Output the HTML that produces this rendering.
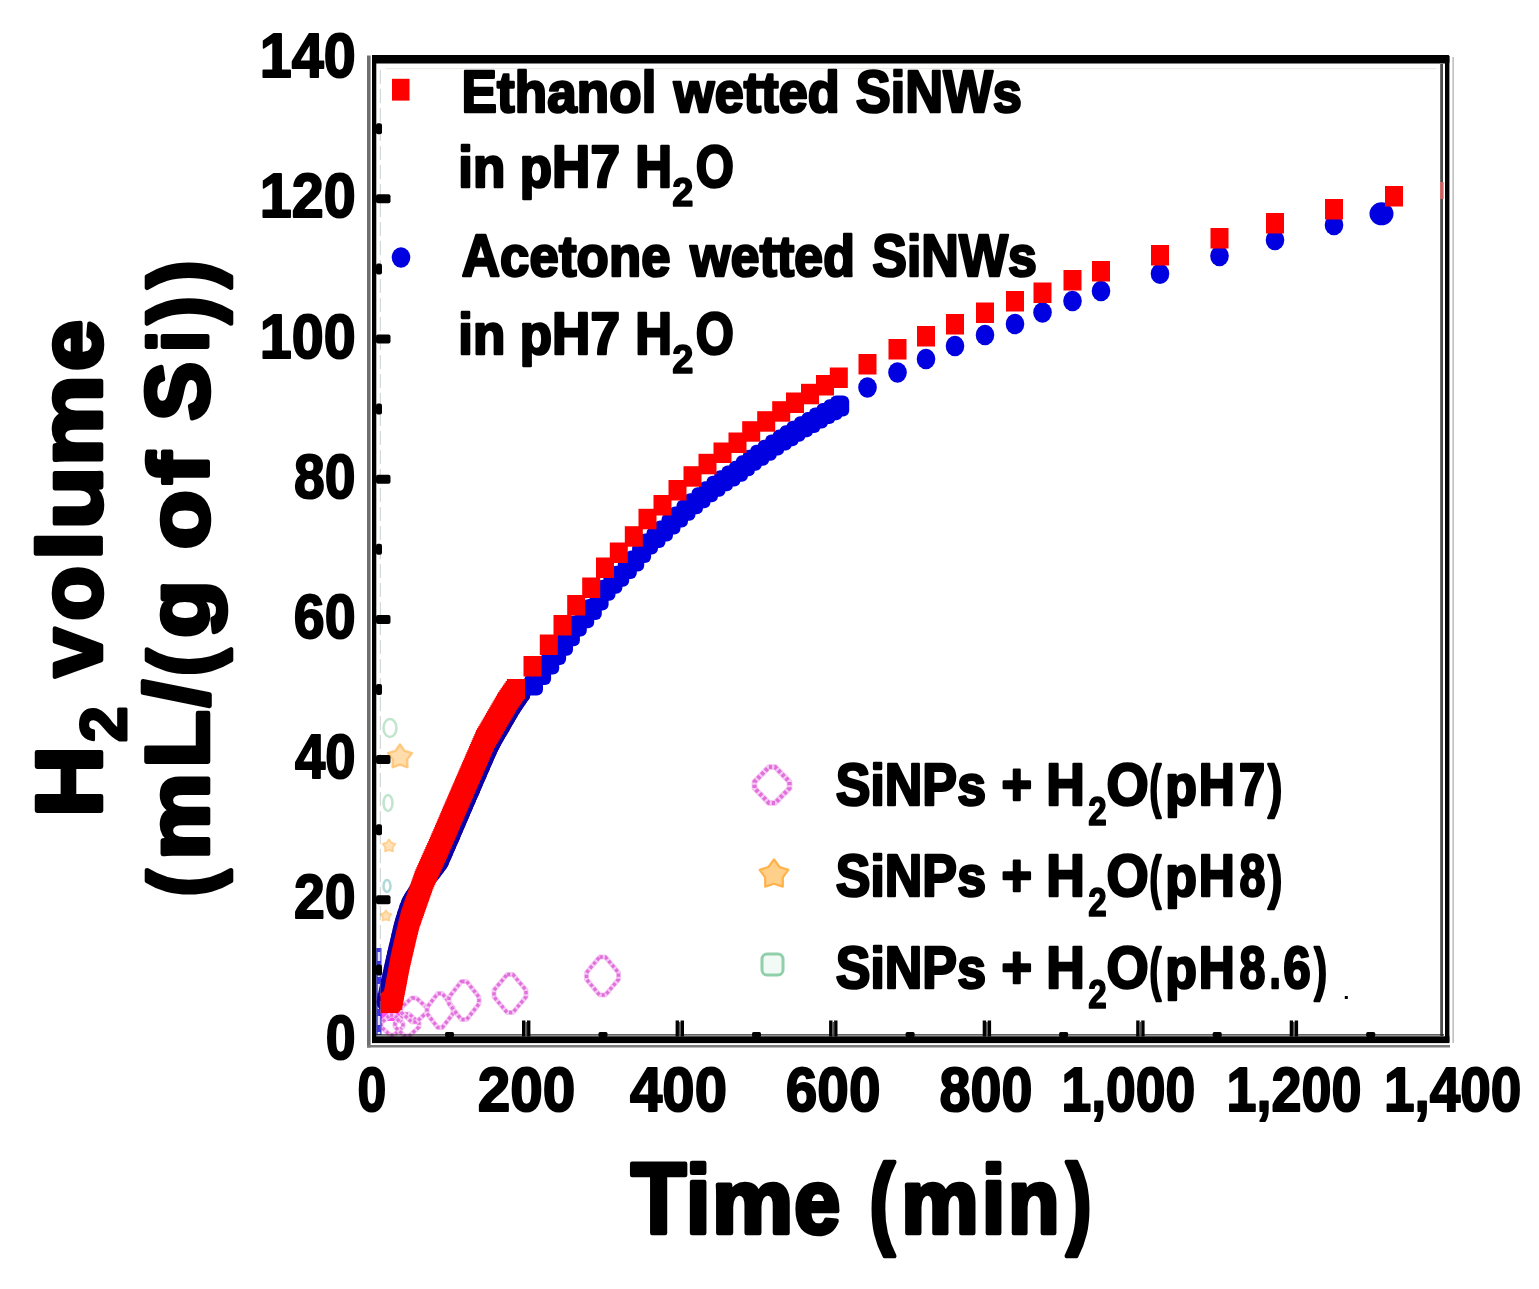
<!DOCTYPE html>
<html lang="en"><head><meta charset="utf-8"><title>H2 volume vs Time</title>
<style>
html,body{margin:0;padding:0;background:#fff;}
body{width:1539px;height:1289px;overflow:hidden;}
svg{display:block;}
text{font-family:"Liberation Sans",sans-serif;font-weight:bold;fill:#000;font-kerning:none;letter-spacing:0;}
</style></head>
<body>
<svg width="1539" height="1289" viewBox="0 0 1539 1289">
<rect width="1539" height="1289" fill="#fff"/>
<g id="minor">
<rect x="379" y="1009" width="24" height="12" fill="#ff38f0" opacity="0.9"/>
<path d="M390.0 1015.0 L394.0 1015.0 L403.0 1023.2 L403.0 1026.8 L394.0 1035.0 L390.0 1035.0 L381.0 1026.8 L381.0 1023.2 Z" fill="none" stroke="#f7c8f4" stroke-width="5.0" stroke-linejoin="round" opacity="1.0"/><path d="M390.0 1015.0 L394.0 1015.0 L403.0 1023.2 L403.0 1026.8 L394.0 1035.0 L390.0 1035.0 L381.0 1026.8 L381.0 1023.2 Z" fill="none" stroke="#e070dc" stroke-width="3.4" stroke-linejoin="round" stroke-dasharray="3.2 2.2" opacity="1.0"/>
<path d="M404.8 1014.0 L409.2 1014.0 L419.0 1023.0 L419.0 1027.0 L409.2 1036.0 L404.8 1036.0 L395.0 1027.0 L395.0 1023.0 Z" fill="none" stroke="#f7c8f4" stroke-width="5.0" stroke-linejoin="round" opacity="1.0"/><path d="M404.8 1014.0 L409.2 1014.0 L419.0 1023.0 L419.0 1027.0 L409.2 1036.0 L404.8 1036.0 L395.0 1027.0 L395.0 1023.0 Z" fill="none" stroke="#e070dc" stroke-width="3.4" stroke-linejoin="round" stroke-dasharray="3.2 2.2" opacity="1.0"/>
<path d="M411.7 998.0 L416.3 998.0 L427.0 1007.8 L427.0 1012.2 L416.3 1022.0 L411.7 1022.0 L401.0 1012.2 L401.0 1007.8 Z" fill="none" stroke="#f7c8f4" stroke-width="5.0" stroke-linejoin="round" opacity="1.0"/><path d="M411.7 998.0 L416.3 998.0 L427.0 1007.8 L427.0 1012.2 L416.3 1022.0 L411.7 1022.0 L401.0 1012.2 L401.0 1007.8 Z" fill="none" stroke="#e070dc" stroke-width="3.4" stroke-linejoin="round" stroke-dasharray="3.2 2.2" opacity="1.0"/>
<path d="M437.7 993.5 L442.3 993.5 L453.0 1007.4 L453.0 1013.6 L442.3 1027.5 L437.7 1027.5 L427.0 1013.6 L427.0 1007.4 Z" fill="none" stroke="#f7c8f4" stroke-width="5.0" stroke-linejoin="round" opacity="1.0"/><path d="M437.7 993.5 L442.3 993.5 L453.0 1007.4 L453.0 1013.6 L442.3 1027.5 L437.7 1027.5 L427.0 1013.6 L427.0 1007.4 Z" fill="none" stroke="#e070dc" stroke-width="3.4" stroke-linejoin="round" stroke-dasharray="3.2 2.2" opacity="1.0"/>
<path d="M461.3 981.5 L466.7 981.5 L479.0 997.1 L479.0 1003.9 L466.7 1019.5 L461.3 1019.5 L449.0 1003.9 L449.0 997.1 Z" fill="none" stroke="#f7c8f4" stroke-width="5.0" stroke-linejoin="round" opacity="1.0"/><path d="M461.3 981.5 L466.7 981.5 L479.0 997.1 L479.0 1003.9 L466.7 1019.5 L461.3 1019.5 L449.0 1003.9 L449.0 997.1 Z" fill="none" stroke="#e070dc" stroke-width="3.4" stroke-linejoin="round" stroke-dasharray="3.2 2.2" opacity="1.0"/>
<path d="M507.1 974.5 L512.9 974.5 L526.0 990.1 L526.0 996.9 L512.9 1012.5 L507.1 1012.5 L494.0 996.9 L494.0 990.1 Z" fill="none" stroke="#f7c8f4" stroke-width="5.0" stroke-linejoin="round" opacity="1.0"/><path d="M507.1 974.5 L512.9 974.5 L526.0 990.1 L526.0 996.9 L512.9 1012.5 L507.1 1012.5 L494.0 996.9 L494.0 990.1 Z" fill="none" stroke="#e070dc" stroke-width="3.4" stroke-linejoin="round" stroke-dasharray="3.2 2.2" opacity="1.0"/>
<path d="M599.6 957.0 L605.4 957.0 L618.5 972.6 L618.5 979.4 L605.4 995.0 L599.6 995.0 L586.5 979.4 L586.5 972.6 Z" fill="none" stroke="#f7c8f4" stroke-width="5.0" stroke-linejoin="round" opacity="1.0"/><path d="M599.6 957.0 L605.4 957.0 L618.5 972.6 L618.5 979.4 L605.4 995.0 L599.6 995.0 L586.5 979.4 L586.5 972.6 Z" fill="none" stroke="#e070dc" stroke-width="3.4" stroke-linejoin="round" stroke-dasharray="3.2 2.2" opacity="1.0"/>
<polygon points="400.0,744.5 404.4,750.9 411.9,753.1 407.1,759.3 407.3,767.1 400.0,764.5 392.7,767.1 392.9,759.3 388.1,753.1 395.6,750.9" fill="#ffd08a" stroke="#ffb24a" stroke-width="2.5" stroke-linejoin="round" opacity="0.7"/>
<polygon points="389.0,839.5 391.3,842.8 395.2,844.0 392.7,847.2 392.8,851.3 389.0,849.9 385.2,851.3 385.3,847.2 382.8,844.0 386.7,842.8" fill="#ffd08a" stroke="#ffb24a" stroke-width="2" stroke-linejoin="round" opacity="0.6"/>
<polygon points="386.0,910.5 387.9,913.3 391.2,914.3 389.1,917.0 389.2,920.4 386.0,919.3 382.8,920.4 382.9,917.0 380.8,914.3 384.1,913.3" fill="#ffd08a" stroke="#ffb24a" stroke-width="2" stroke-linejoin="round" opacity="0.6"/>
<ellipse cx="390" cy="728" rx="6.5" ry="9" fill="none" stroke="#9fd6b4" stroke-width="2.5" opacity="0.65"/>
<ellipse cx="388" cy="803" rx="4.5" ry="8" fill="none" stroke="#9fd6b4" stroke-width="2.5" opacity="0.65"/>
<ellipse cx="387" cy="886" rx="3.5" ry="6" fill="none" stroke="#9fd0d0" stroke-width="2.5" opacity="0.8"/>
</g>
<g id="data">
<rect x="376.3" y="948" width="5.2" height="87" fill="#1a10e8" opacity="0.85"/>
<path d="M379 952 V1034" stroke="#fff" stroke-width="2.6" stroke-dasharray="9 7" opacity="0.85"/>
<g fill="#0c00a8">
<ellipse cx="385.5" cy="1002.0" rx="9" ry="9.5"/>
<ellipse cx="386.0" cy="999.6" rx="9" ry="9.5"/>
<ellipse cx="386.6" cy="997.1" rx="9" ry="9.5"/>
<ellipse cx="387.1" cy="994.7" rx="9" ry="9.5"/>
<ellipse cx="387.6" cy="992.2" rx="9" ry="9.5"/>
<ellipse cx="388.1" cy="989.8" rx="9" ry="9.5"/>
<ellipse cx="388.7" cy="987.3" rx="9" ry="9.5"/>
<ellipse cx="389.2" cy="984.9" rx="9" ry="9.5"/>
<ellipse cx="389.7" cy="982.5" rx="9" ry="9.5"/>
<ellipse cx="390.3" cy="980.0" rx="9" ry="9.5"/>
<ellipse cx="390.8" cy="977.6" rx="9" ry="9.5"/>
<ellipse cx="391.3" cy="975.1" rx="9" ry="9.5"/>
<ellipse cx="391.9" cy="972.7" rx="9" ry="9.5"/>
<ellipse cx="392.4" cy="970.2" rx="9" ry="9.5"/>
<ellipse cx="392.9" cy="967.8" rx="9" ry="9.5"/>
<ellipse cx="393.4" cy="965.4" rx="9" ry="9.5"/>
<ellipse cx="394.0" cy="962.9" rx="9" ry="9.5"/>
<ellipse cx="394.5" cy="960.5" rx="9" ry="9.5"/>
<ellipse cx="395.1" cy="958.0" rx="9" ry="9.5"/>
<ellipse cx="395.6" cy="955.6" rx="9" ry="9.5"/>
<ellipse cx="396.2" cy="953.2" rx="9" ry="9.5"/>
<ellipse cx="396.8" cy="950.7" rx="9" ry="9.5"/>
<ellipse cx="397.4" cy="948.3" rx="9" ry="9.5"/>
<ellipse cx="397.9" cy="945.9" rx="9" ry="9.5"/>
<ellipse cx="398.5" cy="943.4" rx="9" ry="9.5"/>
<ellipse cx="399.1" cy="941.0" rx="9" ry="9.5"/>
<ellipse cx="399.6" cy="938.6" rx="9" ry="9.5"/>
<ellipse cx="400.2" cy="936.1" rx="9" ry="9.5"/>
<ellipse cx="400.8" cy="933.7" rx="9" ry="9.5"/>
<ellipse cx="401.4" cy="931.3" rx="9" ry="9.5"/>
<ellipse cx="401.9" cy="928.8" rx="9" ry="9.5"/>
<ellipse cx="402.5" cy="926.4" rx="9" ry="9.5"/>
<ellipse cx="403.1" cy="924.0" rx="9" ry="9.5"/>
<ellipse cx="403.8" cy="921.6" rx="9" ry="9.5"/>
<ellipse cx="404.6" cy="919.2" rx="9" ry="9.5"/>
<ellipse cx="405.3" cy="916.8" rx="9" ry="9.5"/>
<ellipse cx="406.0" cy="914.4" rx="9" ry="9.5"/>
<ellipse cx="406.8" cy="912.0" rx="9" ry="9.5"/>
<ellipse cx="407.6" cy="909.7" rx="9" ry="9.5"/>
<ellipse cx="408.4" cy="907.3" rx="9" ry="9.5"/>
<ellipse cx="409.3" cy="904.9" rx="9" ry="9.5"/>
<ellipse cx="410.1" cy="902.6" rx="9" ry="9.5"/>
<ellipse cx="411.4" cy="900.4" rx="9" ry="9.5"/>
<ellipse cx="412.7" cy="898.3" rx="9" ry="9.5"/>
<ellipse cx="414.1" cy="896.2" rx="9" ry="9.5"/>
<ellipse cx="415.4" cy="894.1" rx="9" ry="9.5"/>
<ellipse cx="416.8" cy="892.0" rx="9" ry="9.5"/>
<ellipse cx="418.3" cy="890.0" rx="9" ry="9.5"/>
<ellipse cx="419.8" cy="888.0" rx="9" ry="9.5"/>
<ellipse cx="421.2" cy="886.0" rx="9" ry="9.5"/>
<ellipse cx="422.7" cy="884.0" rx="9" ry="9.5"/>
<ellipse cx="424.2" cy="882.0" rx="9" ry="9.5"/>
<ellipse cx="425.8" cy="880.1" rx="9" ry="9.5"/>
<ellipse cx="427.4" cy="878.1" rx="9" ry="9.5"/>
<ellipse cx="429.0" cy="876.2" rx="9" ry="9.5"/>
<ellipse cx="430.6" cy="874.3" rx="9" ry="9.5"/>
<ellipse cx="432.2" cy="872.4" rx="9" ry="9.5"/>
<ellipse cx="433.7" cy="870.4" rx="9" ry="9.5"/>
<ellipse cx="435.2" cy="868.4" rx="9" ry="9.5"/>
<ellipse cx="436.7" cy="866.4" rx="9" ry="9.5"/>
<ellipse cx="438.2" cy="864.4" rx="9" ry="9.5"/>
<ellipse cx="439.7" cy="862.4" rx="9" ry="9.5"/>
<ellipse cx="440.7" cy="860.1" rx="9" ry="9.5"/>
<ellipse cx="441.7" cy="857.8" rx="9" ry="9.5"/>
<ellipse cx="442.7" cy="855.5" rx="9" ry="9.5"/>
<ellipse cx="443.7" cy="853.2" rx="9" ry="9.5"/>
<ellipse cx="444.7" cy="850.9" rx="9" ry="9.5"/>
<ellipse cx="445.7" cy="848.6" rx="9" ry="9.5"/>
<ellipse cx="446.7" cy="846.3" rx="9" ry="9.5"/>
<ellipse cx="447.7" cy="844.1" rx="9" ry="9.5"/>
<ellipse cx="448.7" cy="841.8" rx="9" ry="9.5"/>
<ellipse cx="449.7" cy="839.5" rx="9" ry="9.5"/>
<ellipse cx="450.7" cy="837.2" rx="9" ry="9.5"/>
<ellipse cx="451.7" cy="834.9" rx="9" ry="9.5"/>
<ellipse cx="452.6" cy="832.6" rx="9" ry="9.5"/>
<ellipse cx="453.6" cy="830.3" rx="9" ry="9.5"/>
<ellipse cx="454.6" cy="828.0" rx="9" ry="9.5"/>
<ellipse cx="455.6" cy="825.7" rx="9" ry="9.5"/>
<ellipse cx="456.6" cy="823.4" rx="9" ry="9.5"/>
<ellipse cx="457.6" cy="821.1" rx="9" ry="9.5"/>
<ellipse cx="458.6" cy="818.8" rx="9" ry="9.5"/>
<ellipse cx="459.6" cy="816.5" rx="9" ry="9.5"/>
<ellipse cx="460.5" cy="814.2" rx="9" ry="9.5"/>
<ellipse cx="461.5" cy="811.9" rx="9" ry="9.5"/>
<ellipse cx="462.5" cy="809.6" rx="9" ry="9.5"/>
<ellipse cx="463.5" cy="807.3" rx="9" ry="9.5"/>
<ellipse cx="464.5" cy="805.0" rx="9" ry="9.5"/>
<ellipse cx="465.5" cy="802.7" rx="9" ry="9.5"/>
<ellipse cx="466.5" cy="800.4" rx="9" ry="9.5"/>
<ellipse cx="467.5" cy="798.1" rx="9" ry="9.5"/>
<ellipse cx="468.5" cy="795.8" rx="9" ry="9.5"/>
<ellipse cx="469.5" cy="793.5" rx="9" ry="9.5"/>
<ellipse cx="470.5" cy="791.2" rx="9" ry="9.5"/>
<ellipse cx="471.5" cy="789.0" rx="9" ry="9.5"/>
<ellipse cx="472.4" cy="786.7" rx="9" ry="9.5"/>
<ellipse cx="473.4" cy="784.4" rx="9" ry="9.5"/>
<ellipse cx="474.4" cy="782.1" rx="9" ry="9.5"/>
<ellipse cx="475.4" cy="779.8" rx="9" ry="9.5"/>
<ellipse cx="476.4" cy="777.5" rx="9" ry="9.5"/>
<ellipse cx="477.4" cy="775.2" rx="9" ry="9.5"/>
<ellipse cx="478.4" cy="772.9" rx="9" ry="9.5"/>
<ellipse cx="479.4" cy="770.6" rx="9" ry="9.5"/>
<ellipse cx="480.4" cy="768.3" rx="9" ry="9.5"/>
<ellipse cx="481.4" cy="766.0" rx="9" ry="9.5"/>
<ellipse cx="482.4" cy="763.7" rx="9" ry="9.5"/>
<ellipse cx="483.4" cy="761.4" rx="9" ry="9.5"/>
<ellipse cx="484.4" cy="759.1" rx="9" ry="9.5"/>
<ellipse cx="485.4" cy="756.8" rx="9" ry="9.5"/>
<ellipse cx="486.4" cy="754.5" rx="9" ry="9.5"/>
<ellipse cx="487.4" cy="752.3" rx="9" ry="9.5"/>
<ellipse cx="488.4" cy="750.0" rx="9" ry="9.5"/>
<ellipse cx="489.5" cy="747.7" rx="9" ry="9.5"/>
<ellipse cx="490.6" cy="745.5" rx="9" ry="9.5"/>
<ellipse cx="491.7" cy="743.2" rx="9" ry="9.5"/>
<ellipse cx="492.8" cy="741.0" rx="9" ry="9.5"/>
<ellipse cx="494.1" cy="738.8" rx="9" ry="9.5"/>
<ellipse cx="495.3" cy="736.7" rx="9" ry="9.5"/>
<ellipse cx="496.6" cy="734.5" rx="9" ry="9.5"/>
<ellipse cx="497.8" cy="732.3" rx="9" ry="9.5"/>
<ellipse cx="499.1" cy="730.2" rx="9" ry="9.5"/>
<ellipse cx="500.3" cy="728.0" rx="9" ry="9.5"/>
<ellipse cx="501.6" cy="725.9" rx="9" ry="9.5"/>
<ellipse cx="502.8" cy="723.7" rx="9" ry="9.5"/>
<ellipse cx="504.1" cy="721.5" rx="9" ry="9.5"/>
<ellipse cx="505.3" cy="719.4" rx="9" ry="9.5"/>
<ellipse cx="506.6" cy="717.2" rx="9" ry="9.5"/>
<ellipse cx="507.8" cy="715.0" rx="9" ry="9.5"/>
<ellipse cx="509.1" cy="712.9" rx="9" ry="9.5"/>
<ellipse cx="510.3" cy="710.7" rx="9" ry="9.5"/>
<ellipse cx="511.7" cy="708.6" rx="9" ry="9.5"/>
<ellipse cx="513.1" cy="706.5" rx="9" ry="9.5"/>
<ellipse cx="514.4" cy="704.4" rx="9" ry="9.5"/>
<ellipse cx="515.8" cy="702.3" rx="9" ry="9.5"/>
<ellipse cx="517.2" cy="700.2" rx="9" ry="9.5"/>
<ellipse cx="518.6" cy="698.2" rx="9" ry="9.5"/>
<ellipse cx="520.0" cy="696.1" rx="9" ry="9.5"/>
<ellipse cx="521.4" cy="694.1" rx="9" ry="9.5"/>
<ellipse cx="521.5" cy="694.0" rx="9" ry="9.5"/>
</g>
<g fill="#0000e0">
<rect x="524.0" y="674.4" width="19" height="21" rx="6"/>
<rect x="532.1" y="664.0" width="19" height="21" rx="6"/>
<rect x="540.2" y="653.5" width="19" height="21" rx="6"/>
<rect x="547.1" y="644.1" width="19" height="21" rx="6"/>
<rect x="554.0" y="634.8" width="19" height="21" rx="6"/>
<rect x="560.9" y="625.2" width="19" height="21" rx="6"/>
<rect x="567.8" y="615.6" width="19" height="21" rx="6"/>
<rect x="575.2" y="607.3" width="19" height="21" rx="6"/>
<rect x="582.8" y="599.0" width="19" height="21" rx="6"/>
<rect x="589.6" y="589.4" width="19" height="21" rx="6"/>
<rect x="596.5" y="579.8" width="19" height="21" rx="6"/>
<rect x="603.4" y="572.7" width="19" height="21" rx="6"/>
<rect x="610.2" y="565.7" width="19" height="21" rx="6"/>
<rect x="617.8" y="558.0" width="19" height="21" rx="6"/>
<rect x="625.2" y="550.4" width="19" height="21" rx="6"/>
<rect x="632.1" y="542.0" width="19" height="21" rx="6"/>
<rect x="639.0" y="533.6" width="19" height="21" rx="6"/>
<rect x="646.5" y="527.1" width="19" height="21" rx="6"/>
<rect x="654.0" y="520.6" width="19" height="21" rx="6"/>
<rect x="661.5" y="513.5" width="19" height="21" rx="6"/>
<rect x="669.0" y="506.4" width="19" height="21" rx="6"/>
<rect x="676.5" y="499.8" width="19" height="21" rx="6"/>
<rect x="684.0" y="493.3" width="19" height="21" rx="6"/>
<rect x="691.5" y="487.2" width="19" height="21" rx="6"/>
<rect x="699.0" y="481.2" width="19" height="21" rx="6"/>
<rect x="706.5" y="475.8" width="19" height="21" rx="6"/>
<rect x="714.0" y="470.3" width="19" height="21" rx="6"/>
<rect x="721.5" y="465.5" width="19" height="21" rx="6"/>
<rect x="729.0" y="460.7" width="19" height="21" rx="6"/>
<rect x="735.9" y="455.2" width="19" height="21" rx="6"/>
<rect x="742.8" y="449.7" width="19" height="21" rx="6"/>
<rect x="750.2" y="444.7" width="19" height="21" rx="6"/>
<rect x="757.8" y="439.7" width="19" height="21" rx="6"/>
<rect x="765.2" y="434.6" width="19" height="21" rx="6"/>
<rect x="772.8" y="429.6" width="19" height="21" rx="6"/>
<rect x="779.6" y="425.2" width="19" height="21" rx="6"/>
<rect x="786.5" y="420.7" width="19" height="21" rx="6"/>
<rect x="794.0" y="416.3" width="19" height="21" rx="6"/>
<rect x="801.5" y="411.9" width="19" height="21" rx="6"/>
<rect x="809.0" y="407.5" width="19" height="21" rx="6"/>
<rect x="816.5" y="403.1" width="19" height="21" rx="6"/>
<rect x="823.4" y="399.3" width="19" height="21" rx="6"/>
<rect x="830.2" y="395.5" width="19" height="21" rx="6"/>
<ellipse cx="867.5" cy="387.5" rx="9.3" ry="10.3"/>
<ellipse cx="897.5" cy="372.5" rx="9.3" ry="10.3"/>
<ellipse cx="926.0" cy="359.0" rx="9.3" ry="10.3"/>
<ellipse cx="955.0" cy="346.0" rx="9.3" ry="10.3"/>
<ellipse cx="985.0" cy="335.0" rx="9.3" ry="10.3"/>
<ellipse cx="1015.0" cy="324.0" rx="9.3" ry="10.3"/>
<ellipse cx="1042.5" cy="312.5" rx="9.3" ry="10.3"/>
<ellipse cx="1072.5" cy="301.0" rx="9.3" ry="10.3"/>
<ellipse cx="1101.0" cy="291.0" rx="9.3" ry="10.3"/>
<ellipse cx="1160.0" cy="273.8" rx="9.3" ry="10.3"/>
<ellipse cx="1219.5" cy="256.0" rx="9.3" ry="10.3"/>
<ellipse cx="1275.0" cy="240.0" rx="9.3" ry="10.3"/>
<ellipse cx="1334.0" cy="225.0" rx="9.3" ry="10.3"/>
<ellipse cx="1381.5" cy="213.8" rx="12" ry="11.5"/>
</g>
<g fill="#ff0000">
<rect x="380.5" y="993.0" width="18" height="20"/>
<rect x="382.2" y="991.6" width="18" height="20"/>
<rect x="383.8" y="990.1" width="18" height="20"/>
<rect x="384.4" y="988.0" width="18" height="20"/>
<rect x="384.8" y="985.9" width="18" height="20"/>
<rect x="385.2" y="983.7" width="18" height="20"/>
<rect x="385.6" y="981.6" width="18" height="20"/>
<rect x="386.0" y="979.4" width="18" height="20"/>
<rect x="386.4" y="977.2" width="18" height="20"/>
<rect x="386.8" y="975.1" width="18" height="20"/>
<rect x="387.2" y="972.9" width="18" height="20"/>
<rect x="387.7" y="970.8" width="18" height="20"/>
<rect x="388.1" y="968.6" width="18" height="20"/>
<rect x="388.5" y="966.4" width="18" height="20"/>
<rect x="388.9" y="964.3" width="18" height="20"/>
<rect x="389.3" y="962.1" width="18" height="20"/>
<rect x="389.7" y="959.9" width="18" height="20"/>
<rect x="390.1" y="957.8" width="18" height="20"/>
<rect x="390.5" y="955.6" width="18" height="20"/>
<rect x="390.9" y="953.5" width="18" height="20"/>
<rect x="391.4" y="951.3" width="18" height="20"/>
<rect x="391.8" y="949.1" width="18" height="20"/>
<rect x="392.3" y="947.0" width="18" height="20"/>
<rect x="392.8" y="944.9" width="18" height="20"/>
<rect x="393.3" y="942.7" width="18" height="20"/>
<rect x="393.8" y="940.6" width="18" height="20"/>
<rect x="394.3" y="938.4" width="18" height="20"/>
<rect x="394.8" y="936.3" width="18" height="20"/>
<rect x="395.3" y="934.2" width="18" height="20"/>
<rect x="395.8" y="932.0" width="18" height="20"/>
<rect x="396.3" y="929.9" width="18" height="20"/>
<rect x="396.8" y="927.7" width="18" height="20"/>
<rect x="397.3" y="925.6" width="18" height="20"/>
<rect x="397.8" y="923.4" width="18" height="20"/>
<rect x="398.3" y="921.3" width="18" height="20"/>
<rect x="398.8" y="919.2" width="18" height="20"/>
<rect x="399.3" y="917.0" width="18" height="20"/>
<rect x="399.9" y="914.9" width="18" height="20"/>
<rect x="400.4" y="912.7" width="18" height="20"/>
<rect x="400.9" y="910.6" width="18" height="20"/>
<rect x="401.5" y="908.5" width="18" height="20"/>
<rect x="402.3" y="906.4" width="18" height="20"/>
<rect x="403.0" y="904.4" width="18" height="20"/>
<rect x="403.7" y="902.3" width="18" height="20"/>
<rect x="404.4" y="900.2" width="18" height="20"/>
<rect x="405.2" y="898.1" width="18" height="20"/>
<rect x="405.9" y="896.0" width="18" height="20"/>
<rect x="406.6" y="894.0" width="18" height="20"/>
<rect x="407.3" y="891.9" width="18" height="20"/>
<rect x="408.1" y="889.8" width="18" height="20"/>
<rect x="408.8" y="887.7" width="18" height="20"/>
<rect x="409.5" y="885.7" width="18" height="20"/>
<rect x="410.2" y="883.6" width="18" height="20"/>
<rect x="411.0" y="881.5" width="18" height="20"/>
<rect x="411.7" y="879.4" width="18" height="20"/>
<rect x="412.4" y="877.4" width="18" height="20"/>
<rect x="413.2" y="875.3" width="18" height="20"/>
<rect x="413.9" y="873.2" width="18" height="20"/>
<rect x="414.6" y="871.1" width="18" height="20"/>
<rect x="415.4" y="869.1" width="18" height="20"/>
<rect x="416.3" y="867.1" width="18" height="20"/>
<rect x="417.2" y="865.1" width="18" height="20"/>
<rect x="418.1" y="863.1" width="18" height="20"/>
<rect x="419.0" y="861.1" width="18" height="20"/>
<rect x="419.9" y="859.1" width="18" height="20"/>
<rect x="420.8" y="857.0" width="18" height="20"/>
<rect x="421.7" y="855.0" width="18" height="20"/>
<rect x="422.6" y="853.0" width="18" height="20"/>
<rect x="423.5" y="851.0" width="18" height="20"/>
<rect x="424.4" y="849.0" width="18" height="20"/>
<rect x="425.3" y="847.0" width="18" height="20"/>
<rect x="426.2" y="845.0" width="18" height="20"/>
<rect x="427.1" y="843.0" width="18" height="20"/>
<rect x="428.1" y="841.0" width="18" height="20"/>
<rect x="428.9" y="839.0" width="18" height="20"/>
<rect x="429.8" y="837.0" width="18" height="20"/>
<rect x="430.7" y="834.9" width="18" height="20"/>
<rect x="431.5" y="832.9" width="18" height="20"/>
<rect x="432.4" y="830.9" width="18" height="20"/>
<rect x="433.3" y="828.9" width="18" height="20"/>
<rect x="434.2" y="826.9" width="18" height="20"/>
<rect x="435.0" y="824.8" width="18" height="20"/>
<rect x="435.9" y="822.8" width="18" height="20"/>
<rect x="436.8" y="820.8" width="18" height="20"/>
<rect x="437.6" y="818.8" width="18" height="20"/>
<rect x="438.5" y="816.8" width="18" height="20"/>
<rect x="439.4" y="814.7" width="18" height="20"/>
<rect x="440.2" y="812.7" width="18" height="20"/>
<rect x="441.1" y="810.7" width="18" height="20"/>
<rect x="442.0" y="808.7" width="18" height="20"/>
<rect x="442.8" y="806.6" width="18" height="20"/>
<rect x="443.7" y="804.6" width="18" height="20"/>
<rect x="444.6" y="802.6" width="18" height="20"/>
<rect x="445.4" y="800.6" width="18" height="20"/>
<rect x="446.3" y="798.6" width="18" height="20"/>
<rect x="447.2" y="796.5" width="18" height="20"/>
<rect x="448.1" y="794.5" width="18" height="20"/>
<rect x="448.9" y="792.5" width="18" height="20"/>
<rect x="449.8" y="790.5" width="18" height="20"/>
<rect x="450.7" y="788.5" width="18" height="20"/>
<rect x="451.5" y="786.4" width="18" height="20"/>
<rect x="452.4" y="784.4" width="18" height="20"/>
<rect x="453.3" y="782.4" width="18" height="20"/>
<rect x="454.2" y="780.4" width="18" height="20"/>
<rect x="455.0" y="778.4" width="18" height="20"/>
<rect x="455.9" y="776.3" width="18" height="20"/>
<rect x="456.8" y="774.3" width="18" height="20"/>
<rect x="457.7" y="772.3" width="18" height="20"/>
<rect x="458.5" y="770.3" width="18" height="20"/>
<rect x="459.4" y="768.3" width="18" height="20"/>
<rect x="460.3" y="766.3" width="18" height="20"/>
<rect x="461.2" y="764.2" width="18" height="20"/>
<rect x="462.0" y="762.2" width="18" height="20"/>
<rect x="462.9" y="760.2" width="18" height="20"/>
<rect x="463.8" y="758.2" width="18" height="20"/>
<rect x="464.7" y="756.2" width="18" height="20"/>
<rect x="465.5" y="754.1" width="18" height="20"/>
<rect x="466.4" y="752.1" width="18" height="20"/>
<rect x="467.3" y="750.1" width="18" height="20"/>
<rect x="468.2" y="748.1" width="18" height="20"/>
<rect x="469.0" y="746.1" width="18" height="20"/>
<rect x="469.9" y="744.0" width="18" height="20"/>
<rect x="470.8" y="742.0" width="18" height="20"/>
<rect x="471.7" y="740.0" width="18" height="20"/>
<rect x="472.5" y="738.0" width="18" height="20"/>
<rect x="473.4" y="736.0" width="18" height="20"/>
<rect x="474.3" y="734.0" width="18" height="20"/>
<rect x="475.2" y="731.9" width="18" height="20"/>
<rect x="476.0" y="729.9" width="18" height="20"/>
<rect x="477.1" y="728.0" width="18" height="20"/>
<rect x="478.2" y="726.1" width="18" height="20"/>
<rect x="479.4" y="724.2" width="18" height="20"/>
<rect x="480.5" y="722.3" width="18" height="20"/>
<rect x="481.6" y="720.4" width="18" height="20"/>
<rect x="482.7" y="718.5" width="18" height="20"/>
<rect x="483.8" y="716.6" width="18" height="20"/>
<rect x="484.9" y="714.7" width="18" height="20"/>
<rect x="486.0" y="712.8" width="18" height="20"/>
<rect x="487.1" y="710.9" width="18" height="20"/>
<rect x="488.2" y="709.0" width="18" height="20"/>
<rect x="489.3" y="707.1" width="18" height="20"/>
<rect x="490.4" y="705.2" width="18" height="20"/>
<rect x="491.5" y="703.3" width="18" height="20"/>
<rect x="492.6" y="701.4" width="18" height="20"/>
<rect x="493.7" y="699.5" width="18" height="20"/>
<rect x="494.8" y="697.6" width="18" height="20"/>
<rect x="495.9" y="695.7" width="18" height="20"/>
<rect x="497.0" y="693.7" width="18" height="20"/>
<rect x="498.1" y="691.9" width="18" height="20"/>
<rect x="499.4" y="690.0" width="18" height="20"/>
<rect x="500.6" y="688.2" width="18" height="20"/>
<rect x="501.9" y="686.4" width="18" height="20"/>
<rect x="503.1" y="684.6" width="18" height="20"/>
<rect x="504.4" y="682.8" width="18" height="20"/>
<rect x="505.6" y="681.0" width="18" height="20"/>
<rect x="506.9" y="679.2" width="18" height="20"/>
<rect x="507.0" y="679.0" width="18" height="20"/>
<rect x="523.5" y="656.0" width="18" height="20.5"/>
<rect x="539.8" y="634.5" width="18" height="20.5"/>
<rect x="553.5" y="615.0" width="18" height="20.5"/>
<rect x="567.2" y="595.0" width="18" height="20.5"/>
<rect x="582.2" y="577.5" width="18" height="20.5"/>
<rect x="596.0" y="557.5" width="18" height="20.5"/>
<rect x="609.8" y="542.5" width="18" height="20.5"/>
<rect x="624.8" y="526.2" width="18" height="20.5"/>
<rect x="638.5" y="508.8" width="18" height="20.5"/>
<rect x="653.5" y="495.0" width="18" height="20.5"/>
<rect x="668.5" y="480.0" width="18" height="20.5"/>
<rect x="683.5" y="466.2" width="18" height="20.5"/>
<rect x="698.5" y="453.8" width="18" height="20.5"/>
<rect x="713.5" y="442.5" width="18" height="20.5"/>
<rect x="728.5" y="432.5" width="18" height="20.5"/>
<rect x="742.2" y="421.2" width="18" height="20.5"/>
<rect x="757.2" y="411.2" width="18" height="20.5"/>
<rect x="772.2" y="401.2" width="18" height="20.5"/>
<rect x="786.0" y="392.5" width="18" height="20.5"/>
<rect x="801.0" y="383.8" width="18" height="20.5"/>
<rect x="816.0" y="375.0" width="18" height="20.5"/>
<rect x="829.8" y="367.5" width="18" height="20.5"/>
<rect x="858.5" y="354.0" width="18" height="20.5"/>
<rect x="888.5" y="339.0" width="18" height="20.5"/>
<rect x="917.0" y="326.0" width="18" height="20.5"/>
<rect x="946.0" y="314.0" width="18" height="20.5"/>
<rect x="976.0" y="302.5" width="18" height="20.5"/>
<rect x="1006.0" y="291.0" width="18" height="20.5"/>
<rect x="1033.5" y="282.5" width="18" height="20.5"/>
<rect x="1063.5" y="270.0" width="18" height="20.5"/>
<rect x="1092.0" y="261.0" width="18" height="20.5"/>
<rect x="1151.0" y="245.0" width="18" height="20.5"/>
<rect x="1210.5" y="228.0" width="18" height="20.5"/>
<rect x="1266.0" y="213.0" width="18" height="20.5"/>
<rect x="1325.0" y="199.0" width="18" height="20.5"/>
<rect x="1385.0" y="186.0" width="18" height="20.5"/>
</g>
</g>
<g id="frame">
<rect x="367" y="55.5" width="3.6" height="992" fill="#6e6e6e"/>
<rect x="367" y="1045" width="1083" height="2.5" fill="#7a7a7a"/>
<rect x="1440.2" y="64" width="2.8" height="972" fill="#4a4a4a"/>
<rect x="1452.6" y="57" width="1" height="986" fill="#9a9a9a"/>
<rect x="376" y="1034.3" width="1068" height="1.2" fill="#222"/>
<path d="M380.3 70 V1030" stroke="#8a9a94" stroke-width="1" stroke-dasharray="14 5" opacity="0.45" fill="none"/>
<path d="M386 68.6 H1436" stroke="#b8b8b0" stroke-width="1" opacity="0.35" fill="none"/>
<rect x="1440" y="182" width="4" height="17" fill="#ff6a6a" opacity="0.7"/>
<rect x="372" y="55" width="1077.4" height="8.5" rx="1.5" fill="#000"/>
<rect x="372" y="55" width="4.3" height="988" fill="#000"/>
<rect x="1445" y="55" width="4.4" height="988" rx="1.5" fill="#000"/>
<rect x="372" y="1036.3" width="1077.4" height="6.8" fill="#000"/>
<rect x="445.0" y="1032" width="9" height="5" rx="1.5" fill="#000"/>
<rect x="522.0" y="1020.5" width="3.4" height="16" fill="#000"/>
<rect x="527.0" y="1020.5" width="3.4" height="16" fill="#000"/>
<rect x="525.2" y="1022" width="2" height="14" fill="#555"/>
<rect x="598.5" y="1032" width="9" height="5" rx="1.5" fill="#000"/>
<rect x="675.6" y="1020.5" width="3.4" height="16" fill="#000"/>
<rect x="680.6" y="1020.5" width="3.4" height="16" fill="#000"/>
<rect x="678.8" y="1022" width="2" height="14" fill="#555"/>
<rect x="752.0" y="1032" width="9" height="5" rx="1.5" fill="#000"/>
<rect x="829.1" y="1020.5" width="3.4" height="16" fill="#000"/>
<rect x="834.1" y="1020.5" width="3.4" height="16" fill="#000"/>
<rect x="832.3" y="1022" width="2" height="14" fill="#555"/>
<rect x="905.6" y="1032" width="9" height="5" rx="1.5" fill="#000"/>
<rect x="982.7" y="1020.5" width="3.4" height="16" fill="#000"/>
<rect x="987.7" y="1020.5" width="3.4" height="16" fill="#000"/>
<rect x="985.9" y="1022" width="2" height="14" fill="#555"/>
<rect x="1059.1" y="1032" width="9" height="5" rx="1.5" fill="#000"/>
<rect x="1136.2" y="1020.5" width="3.4" height="16" fill="#000"/>
<rect x="1141.2" y="1020.5" width="3.4" height="16" fill="#000"/>
<rect x="1139.4" y="1022" width="2" height="14" fill="#555"/>
<rect x="1212.7" y="1032" width="9" height="5" rx="1.5" fill="#000"/>
<rect x="1289.7" y="1020.5" width="3.4" height="16" fill="#000"/>
<rect x="1294.7" y="1020.5" width="3.4" height="16" fill="#000"/>
<rect x="1292.9" y="1022" width="2" height="14" fill="#555"/>
<rect x="1366.2" y="1032" width="9" height="5" rx="1.5" fill="#000"/>
<rect x="376" y="964.4" width="6" height="11" rx="2" fill="#000"/>
<rect x="376" y="895.3" width="14.5" height="9" rx="2" fill="#000"/>
<rect x="376" y="824.2" width="6" height="11" rx="2" fill="#000"/>
<rect x="376" y="755.1" width="14.5" height="9" rx="2" fill="#000"/>
<rect x="376" y="684.0" width="6" height="11" rx="2" fill="#000"/>
<rect x="376" y="614.9" width="14.5" height="9" rx="2" fill="#000"/>
<rect x="376" y="543.8" width="6" height="11" rx="2" fill="#000"/>
<rect x="376" y="474.7" width="14.5" height="9" rx="2" fill="#000"/>
<rect x="376" y="403.6" width="6" height="11" rx="2" fill="#000"/>
<rect x="376" y="334.5" width="14.5" height="9" rx="2" fill="#000"/>
<rect x="376" y="263.4" width="6" height="11" rx="2" fill="#000"/>
<rect x="376" y="194.3" width="14.5" height="9" rx="2" fill="#000"/>
<rect x="376" y="123.2" width="6" height="11" rx="2" fill="#000"/>
</g>
<g id="legend-markers">
<rect x="392" y="78.8" width="17.5" height="21.8" fill="#ff0000"/>
<ellipse cx="401" cy="257.5" rx="9.3" ry="10.3" fill="#0000e0"/>
<path d="M768.9 767.0 L775.1 767.0 L789.5 781.8 L789.5 788.2 L775.1 803.0 L768.9 803.0 L754.5 788.2 L754.5 781.8 Z" fill="none" stroke="#f7c8f4" stroke-width="5.8" stroke-linejoin="round" opacity="1.0"/><path d="M768.9 767.0 L775.1 767.0 L789.5 781.8 L789.5 788.2 L775.1 803.0 L768.9 803.0 L754.5 788.2 L754.5 781.8 Z" fill="none" stroke="#e070dc" stroke-width="4.2" stroke-linejoin="round" stroke-dasharray="3.2 2.2" opacity="1.0"/>
<polygon points="774.0,859.5 779.5,867.0 788.3,869.9 782.8,877.4 782.8,886.6 774.0,883.8 765.2,886.6 765.2,877.4 759.7,869.9 768.5,867.0" fill="#ffd08a" stroke="#ffb24a" stroke-width="2.2" stroke-linejoin="round" opacity="1.0"/>
<rect x="762" y="954" width="21" height="21" rx="5" fill="#f2faf5" stroke="#8fcfaa" stroke-width="3"/>
<rect x="1344.8" y="996" width="3" height="3" fill="#000"/>
</g>
<g id="labels">
<text stroke="#000" stroke-linejoin="round"><tspan x="461.50" y="111.70" font-size="59.88" stroke-width="2.60" textLength="35.45" lengthAdjust="spacingAndGlyphs">E</tspan><tspan x="497.00" y="111.70" font-size="56.86" stroke-width="2.60" textLength="17.58" lengthAdjust="spacingAndGlyphs">t</tspan><tspan x="514.72" y="111.70" font-size="56.86" stroke-width="2.60" textLength="32.32" lengthAdjust="spacingAndGlyphs">h</tspan><tspan x="547.18" y="111.70" font-size="56.44" stroke-width="2.60" textLength="29.42" lengthAdjust="spacingAndGlyphs">a</tspan><tspan x="576.75" y="111.70" font-size="56.44" stroke-width="2.60" textLength="32.30" lengthAdjust="spacingAndGlyphs">n</tspan><tspan x="609.20" y="111.70" font-size="56.44" stroke-width="2.60" textLength="32.32" lengthAdjust="spacingAndGlyphs">o</tspan><tspan x="641.69" y="111.70" font-size="56.86" stroke-width="2.60" textLength="14.58" lengthAdjust="spacingAndGlyphs">l</tspan> <tspan x="673.86" y="111.70" font-size="56.44" stroke-width="2.60" textLength="40.65" lengthAdjust="spacingAndGlyphs">w</tspan><tspan x="714.64" y="111.70" font-size="56.44" stroke-width="2.60" textLength="29.01" lengthAdjust="spacingAndGlyphs">e</tspan><tspan x="743.78" y="111.70" font-size="56.86" stroke-width="2.60" textLength="17.34" lengthAdjust="spacingAndGlyphs">t</tspan><tspan x="761.24" y="111.70" font-size="56.86" stroke-width="2.60" textLength="17.34" lengthAdjust="spacingAndGlyphs">t</tspan><tspan x="778.71" y="111.70" font-size="56.44" stroke-width="2.60" textLength="29.01" lengthAdjust="spacingAndGlyphs">e</tspan><tspan x="807.86" y="111.70" font-size="56.86" stroke-width="2.60" textLength="31.89" lengthAdjust="spacingAndGlyphs">d</tspan> <tspan x="855.63" y="111.70" font-size="59.88" stroke-width="2.60" textLength="35.04" lengthAdjust="spacingAndGlyphs">S</tspan><tspan x="890.76" y="111.70" font-size="56.86" stroke-width="2.60" textLength="14.41" lengthAdjust="spacingAndGlyphs">i</tspan><tspan x="905.27" y="111.70" font-size="59.88" stroke-width="2.60" textLength="37.94" lengthAdjust="spacingAndGlyphs">N</tspan><tspan x="943.21" y="111.70" font-size="59.88" stroke-width="2.60" textLength="49.59" lengthAdjust="spacingAndGlyphs">W</tspan><tspan x="992.87" y="111.70" font-size="56.44" stroke-width="2.60" textLength="29.07" lengthAdjust="spacingAndGlyphs">s</tspan></text>
<text stroke="#000" stroke-linejoin="round"><tspan x="458.33" y="186.70" font-size="56.86" stroke-width="2.60" textLength="14.60" lengthAdjust="spacingAndGlyphs">i</tspan><tspan x="473.11" y="186.70" font-size="56.44" stroke-width="2.60" textLength="32.35" lengthAdjust="spacingAndGlyphs">n</tspan> <tspan x="519.73" y="186.70" font-size="56.44" stroke-width="2.60" textLength="32.28" lengthAdjust="spacingAndGlyphs">p</tspan><tspan x="552.09" y="186.70" font-size="59.88" stroke-width="2.60" textLength="38.35" lengthAdjust="spacingAndGlyphs">H</tspan><tspan x="590.45" y="186.70" font-size="59.88" stroke-width="2.60" textLength="29.54" lengthAdjust="spacingAndGlyphs">7</tspan> <tspan x="635.20" y="186.70" font-size="59.88" stroke-width="2.60" textLength="36.83" lengthAdjust="spacingAndGlyphs">H</tspan><tspan x="672.23" y="205.80" font-size="40.68" stroke-width="1.60" textLength="21.14" lengthAdjust="spacingAndGlyphs">2</tspan><tspan x="695.85" y="186.70" font-size="59.88" stroke-width="2.60" textLength="38.14" lengthAdjust="spacingAndGlyphs">O</tspan></text>
<text stroke="#000" stroke-linejoin="round"><tspan x="461.63" y="276.00" font-size="59.88" stroke-width="2.60" textLength="38.26" lengthAdjust="spacingAndGlyphs">A</tspan><tspan x="499.97" y="276.00" font-size="56.44" stroke-width="2.60" textLength="29.32" lengthAdjust="spacingAndGlyphs">c</tspan><tspan x="529.43" y="276.00" font-size="56.44" stroke-width="2.60" textLength="29.32" lengthAdjust="spacingAndGlyphs">e</tspan><tspan x="558.88" y="276.00" font-size="56.86" stroke-width="2.60" textLength="17.53" lengthAdjust="spacingAndGlyphs">t</tspan><tspan x="576.54" y="276.00" font-size="56.44" stroke-width="2.60" textLength="32.22" lengthAdjust="spacingAndGlyphs">o</tspan><tspan x="608.91" y="276.00" font-size="56.44" stroke-width="2.60" textLength="32.20" lengthAdjust="spacingAndGlyphs">n</tspan><tspan x="641.27" y="276.00" font-size="56.44" stroke-width="2.60" textLength="29.32" lengthAdjust="spacingAndGlyphs">e</tspan> <tspan x="690.34" y="276.00" font-size="56.44" stroke-width="2.60" textLength="40.28" lengthAdjust="spacingAndGlyphs">w</tspan><tspan x="730.76" y="276.00" font-size="56.44" stroke-width="2.60" textLength="28.75" lengthAdjust="spacingAndGlyphs">e</tspan><tspan x="759.63" y="276.00" font-size="56.86" stroke-width="2.60" textLength="17.19" lengthAdjust="spacingAndGlyphs">t</tspan><tspan x="776.93" y="276.00" font-size="56.86" stroke-width="2.60" textLength="17.19" lengthAdjust="spacingAndGlyphs">t</tspan><tspan x="794.25" y="276.00" font-size="56.44" stroke-width="2.60" textLength="28.75" lengthAdjust="spacingAndGlyphs">e</tspan><tspan x="823.13" y="276.00" font-size="56.86" stroke-width="2.60" textLength="31.60" lengthAdjust="spacingAndGlyphs">d</tspan> <tspan x="872.13" y="276.00" font-size="59.88" stroke-width="2.60" textLength="34.72" lengthAdjust="spacingAndGlyphs">S</tspan><tspan x="906.95" y="276.00" font-size="56.86" stroke-width="2.60" textLength="14.28" lengthAdjust="spacingAndGlyphs">i</tspan><tspan x="921.32" y="276.00" font-size="59.88" stroke-width="2.60" textLength="37.60" lengthAdjust="spacingAndGlyphs">N</tspan><tspan x="958.91" y="276.00" font-size="59.88" stroke-width="2.60" textLength="49.14" lengthAdjust="spacingAndGlyphs">W</tspan><tspan x="1008.12" y="276.00" font-size="56.44" stroke-width="2.60" textLength="28.81" lengthAdjust="spacingAndGlyphs">s</tspan></text>
<text stroke="#000" stroke-linejoin="round"><tspan x="458.33" y="353.80" font-size="56.86" stroke-width="2.60" textLength="14.60" lengthAdjust="spacingAndGlyphs">i</tspan><tspan x="473.11" y="353.80" font-size="56.44" stroke-width="2.60" textLength="32.35" lengthAdjust="spacingAndGlyphs">n</tspan> <tspan x="519.73" y="353.80" font-size="56.44" stroke-width="2.60" textLength="32.28" lengthAdjust="spacingAndGlyphs">p</tspan><tspan x="552.09" y="353.80" font-size="59.88" stroke-width="2.60" textLength="38.35" lengthAdjust="spacingAndGlyphs">H</tspan><tspan x="590.45" y="353.80" font-size="59.88" stroke-width="2.60" textLength="29.54" lengthAdjust="spacingAndGlyphs">7</tspan> <tspan x="635.20" y="353.80" font-size="59.88" stroke-width="2.60" textLength="36.83" lengthAdjust="spacingAndGlyphs">H</tspan><tspan x="672.23" y="373.00" font-size="40.68" stroke-width="1.60" textLength="21.14" lengthAdjust="spacingAndGlyphs">2</tspan><tspan x="695.85" y="353.80" font-size="59.88" stroke-width="2.60" textLength="38.14" lengthAdjust="spacingAndGlyphs">O</tspan></text>
<text stroke="#000" stroke-linejoin="round"><tspan x="835.63" y="804.70" font-size="59.88" stroke-width="2.60" textLength="34.70" lengthAdjust="spacingAndGlyphs">S</tspan><tspan x="870.43" y="804.70" font-size="56.86" stroke-width="2.60" textLength="14.27" lengthAdjust="spacingAndGlyphs">i</tspan><tspan x="884.79" y="804.70" font-size="59.88" stroke-width="2.60" textLength="37.57" lengthAdjust="spacingAndGlyphs">N</tspan><tspan x="922.36" y="804.70" font-size="59.88" stroke-width="2.60" textLength="34.70" lengthAdjust="spacingAndGlyphs">P</tspan><tspan x="957.14" y="804.70" font-size="56.44" stroke-width="2.60" textLength="28.79" lengthAdjust="spacingAndGlyphs">s</tspan> <tspan x="1001.44" y="804.70" font-size="59.88" stroke-width="2.60" textLength="30.55" lengthAdjust="spacingAndGlyphs">+</tspan> <tspan x="1046.33" y="804.70" font-size="59.88" stroke-width="2.60" textLength="38.61" lengthAdjust="spacingAndGlyphs">H</tspan><tspan x="1088.25" y="824.70" font-size="40.68" stroke-width="1.60" textLength="18.42" lengthAdjust="spacingAndGlyphs">2</tspan><tspan x="1106.45" y="804.70" font-size="59.88" stroke-width="2.60" textLength="42.15" lengthAdjust="spacingAndGlyphs">O</tspan><tspan x="1149.54" y="805.70" font-size="57.83" stroke-width="2.60" textLength="11.70" lengthAdjust="spacingAndGlyphs">(</tspan><tspan x="1165.28" y="804.70" font-size="56.44" stroke-width="2.60" textLength="31.65" lengthAdjust="spacingAndGlyphs">p</tspan><tspan x="1198.75" y="804.70" font-size="59.88" stroke-width="2.60" textLength="36.03" lengthAdjust="spacingAndGlyphs">H</tspan><tspan x="1239.00" y="804.70" font-size="59.88" stroke-width="2.60" textLength="26.04" lengthAdjust="spacingAndGlyphs">7</tspan><tspan x="1267.92" y="805.70" font-size="57.83" stroke-width="2.60" textLength="14.25" lengthAdjust="spacingAndGlyphs">)</tspan></text>
<text stroke="#000" stroke-linejoin="round"><tspan x="835.63" y="896.20" font-size="59.88" stroke-width="2.60" textLength="34.70" lengthAdjust="spacingAndGlyphs">S</tspan><tspan x="870.43" y="896.20" font-size="56.86" stroke-width="2.60" textLength="14.27" lengthAdjust="spacingAndGlyphs">i</tspan><tspan x="884.79" y="896.20" font-size="59.88" stroke-width="2.60" textLength="37.57" lengthAdjust="spacingAndGlyphs">N</tspan><tspan x="922.36" y="896.20" font-size="59.88" stroke-width="2.60" textLength="34.70" lengthAdjust="spacingAndGlyphs">P</tspan><tspan x="957.14" y="896.20" font-size="56.44" stroke-width="2.60" textLength="28.79" lengthAdjust="spacingAndGlyphs">s</tspan> <tspan x="1001.44" y="896.20" font-size="59.88" stroke-width="2.60" textLength="30.55" lengthAdjust="spacingAndGlyphs">+</tspan> <tspan x="1046.33" y="896.20" font-size="59.88" stroke-width="2.60" textLength="38.61" lengthAdjust="spacingAndGlyphs">H</tspan><tspan x="1088.25" y="916.20" font-size="40.68" stroke-width="1.60" textLength="18.42" lengthAdjust="spacingAndGlyphs">2</tspan><tspan x="1106.45" y="896.20" font-size="59.88" stroke-width="2.60" textLength="42.15" lengthAdjust="spacingAndGlyphs">O</tspan><tspan x="1149.54" y="897.20" font-size="57.83" stroke-width="2.60" textLength="11.70" lengthAdjust="spacingAndGlyphs">(</tspan><tspan x="1165.28" y="896.20" font-size="56.44" stroke-width="2.60" textLength="31.65" lengthAdjust="spacingAndGlyphs">p</tspan><tspan x="1198.75" y="896.20" font-size="59.88" stroke-width="2.60" textLength="36.03" lengthAdjust="spacingAndGlyphs">H</tspan><tspan x="1239.53" y="896.20" font-size="59.88" stroke-width="2.60" textLength="25.89" lengthAdjust="spacingAndGlyphs">8</tspan><tspan x="1267.92" y="897.20" font-size="57.83" stroke-width="2.60" textLength="14.25" lengthAdjust="spacingAndGlyphs">)</tspan></text>
<text stroke="#000" stroke-linejoin="round"><tspan x="835.63" y="987.70" font-size="59.88" stroke-width="2.60" textLength="34.70" lengthAdjust="spacingAndGlyphs">S</tspan><tspan x="870.43" y="987.70" font-size="56.86" stroke-width="2.60" textLength="14.27" lengthAdjust="spacingAndGlyphs">i</tspan><tspan x="884.79" y="987.70" font-size="59.88" stroke-width="2.60" textLength="37.57" lengthAdjust="spacingAndGlyphs">N</tspan><tspan x="922.36" y="987.70" font-size="59.88" stroke-width="2.60" textLength="34.70" lengthAdjust="spacingAndGlyphs">P</tspan><tspan x="957.14" y="987.70" font-size="56.44" stroke-width="2.60" textLength="28.79" lengthAdjust="spacingAndGlyphs">s</tspan> <tspan x="1001.44" y="987.70" font-size="59.88" stroke-width="2.60" textLength="30.55" lengthAdjust="spacingAndGlyphs">+</tspan> <tspan x="1046.33" y="987.70" font-size="59.88" stroke-width="2.60" textLength="38.61" lengthAdjust="spacingAndGlyphs">H</tspan><tspan x="1088.25" y="1007.70" font-size="40.68" stroke-width="1.60" textLength="18.42" lengthAdjust="spacingAndGlyphs">2</tspan><tspan x="1106.45" y="987.70" font-size="59.88" stroke-width="2.60" textLength="42.15" lengthAdjust="spacingAndGlyphs">O</tspan><tspan x="1149.54" y="988.70" font-size="57.83" stroke-width="2.60" textLength="11.70" lengthAdjust="spacingAndGlyphs">(</tspan><tspan x="1165.28" y="987.70" font-size="56.44" stroke-width="2.60" textLength="31.65" lengthAdjust="spacingAndGlyphs">p</tspan><tspan x="1198.75" y="987.70" font-size="59.88" stroke-width="2.60" textLength="36.03" lengthAdjust="spacingAndGlyphs">H</tspan><tspan x="1239.53" y="987.70" font-size="59.88" stroke-width="2.60" textLength="25.89" lengthAdjust="spacingAndGlyphs">8</tspan><tspan x="1269.62" y="987.70" font-size="59.88" stroke-width="2.60" textLength="11.29" lengthAdjust="spacingAndGlyphs">.</tspan><tspan x="1283.26" y="987.70" font-size="59.88" stroke-width="2.60" textLength="27.45" lengthAdjust="spacingAndGlyphs">6</tspan><tspan x="1314.32" y="988.70" font-size="57.83" stroke-width="2.60" textLength="12.72" lengthAdjust="spacingAndGlyphs">)</tspan></text>
<text stroke="#000" stroke-linejoin="round"><tspan x="259.79" y="77.20" font-size="63.28" stroke-width="2.00" textLength="31.95" lengthAdjust="spacingAndGlyphs">1</tspan><tspan x="291.74" y="77.20" font-size="63.28" stroke-width="2.00" textLength="31.95" lengthAdjust="spacingAndGlyphs">4</tspan><tspan x="323.70" y="77.20" font-size="63.28" stroke-width="2.00" textLength="31.95" lengthAdjust="spacingAndGlyphs">0</tspan></text>
<text stroke="#000" stroke-linejoin="round"><tspan x="259.79" y="217.40" font-size="63.28" stroke-width="2.00" textLength="31.95" lengthAdjust="spacingAndGlyphs">1</tspan><tspan x="291.74" y="217.40" font-size="63.28" stroke-width="2.00" textLength="31.95" lengthAdjust="spacingAndGlyphs">2</tspan><tspan x="323.70" y="217.40" font-size="63.28" stroke-width="2.00" textLength="31.95" lengthAdjust="spacingAndGlyphs">0</tspan></text>
<text stroke="#000" stroke-linejoin="round"><tspan x="259.79" y="357.60" font-size="63.28" stroke-width="2.00" textLength="31.95" lengthAdjust="spacingAndGlyphs">1</tspan><tspan x="291.74" y="357.60" font-size="63.28" stroke-width="2.00" textLength="31.95" lengthAdjust="spacingAndGlyphs">0</tspan><tspan x="323.70" y="357.60" font-size="63.28" stroke-width="2.00" textLength="31.95" lengthAdjust="spacingAndGlyphs">0</tspan></text>
<text stroke="#000" stroke-linejoin="round"><tspan x="294.12" y="497.80" font-size="63.28" stroke-width="2.00" textLength="30.74" lengthAdjust="spacingAndGlyphs">8</tspan><tspan x="324.86" y="497.80" font-size="63.28" stroke-width="2.00" textLength="30.74" lengthAdjust="spacingAndGlyphs">0</tspan></text>
<text stroke="#000" stroke-linejoin="round"><tspan x="293.84" y="638.00" font-size="63.28" stroke-width="2.00" textLength="30.88" lengthAdjust="spacingAndGlyphs">6</tspan><tspan x="324.72" y="638.00" font-size="63.28" stroke-width="2.00" textLength="30.88" lengthAdjust="spacingAndGlyphs">0</tspan></text>
<text stroke="#000" stroke-linejoin="round"><tspan x="295.04" y="778.20" font-size="63.28" stroke-width="2.00" textLength="30.27" lengthAdjust="spacingAndGlyphs">4</tspan><tspan x="325.30" y="778.20" font-size="63.28" stroke-width="2.00" textLength="30.27" lengthAdjust="spacingAndGlyphs">0</tspan></text>
<text stroke="#000" stroke-linejoin="round"><tspan x="293.95" y="918.40" font-size="63.28" stroke-width="2.00" textLength="30.82" lengthAdjust="spacingAndGlyphs">2</tspan><tspan x="324.78" y="918.40" font-size="63.28" stroke-width="2.00" textLength="30.82" lengthAdjust="spacingAndGlyphs">0</tspan></text>
<text stroke="#000" stroke-linejoin="round"><tspan x="325.73" y="1058.60" font-size="63.28" stroke-width="2.00" textLength="29.83" lengthAdjust="spacingAndGlyphs">0</tspan></text>
<text stroke="#000" stroke-linejoin="round"><tspan x="357.52" y="1110.60" font-size="63.28" stroke-width="2.00" textLength="28.78" lengthAdjust="spacingAndGlyphs">0</tspan></text>
<text stroke="#000" stroke-linejoin="round"><tspan x="477.65" y="1110.60" font-size="63.28" stroke-width="2.00" textLength="32.53" lengthAdjust="spacingAndGlyphs">2</tspan><tspan x="510.17" y="1110.60" font-size="63.28" stroke-width="2.00" textLength="32.53" lengthAdjust="spacingAndGlyphs">0</tspan><tspan x="542.70" y="1110.60" font-size="63.28" stroke-width="2.00" textLength="32.53" lengthAdjust="spacingAndGlyphs">0</tspan></text>
<text stroke="#000" stroke-linejoin="round"><tspan x="630.04" y="1110.60" font-size="63.28" stroke-width="2.00" textLength="32.31" lengthAdjust="spacingAndGlyphs">4</tspan><tspan x="662.35" y="1110.60" font-size="63.28" stroke-width="2.00" textLength="32.31" lengthAdjust="spacingAndGlyphs">0</tspan><tspan x="694.66" y="1110.60" font-size="63.28" stroke-width="2.00" textLength="32.31" lengthAdjust="spacingAndGlyphs">0</tspan></text>
<text stroke="#000" stroke-linejoin="round"><tspan x="785.82" y="1110.60" font-size="63.28" stroke-width="2.00" textLength="31.54" lengthAdjust="spacingAndGlyphs">6</tspan><tspan x="817.36" y="1110.60" font-size="63.28" stroke-width="2.00" textLength="31.54" lengthAdjust="spacingAndGlyphs">0</tspan><tspan x="848.89" y="1110.60" font-size="63.28" stroke-width="2.00" textLength="31.54" lengthAdjust="spacingAndGlyphs">0</tspan></text>
<text stroke="#000" stroke-linejoin="round"><tspan x="939.61" y="1110.60" font-size="63.28" stroke-width="2.00" textLength="30.93" lengthAdjust="spacingAndGlyphs">8</tspan><tspan x="970.54" y="1110.60" font-size="63.28" stroke-width="2.00" textLength="30.93" lengthAdjust="spacingAndGlyphs">0</tspan><tspan x="1001.47" y="1110.60" font-size="63.28" stroke-width="2.00" textLength="30.93" lengthAdjust="spacingAndGlyphs">0</tspan></text>
<text stroke="#000" stroke-linejoin="round"><tspan x="1061.48" y="1110.60" font-size="63.28" stroke-width="2.00" textLength="29.75" lengthAdjust="spacingAndGlyphs">1</tspan><tspan x="1091.23" y="1110.60" font-size="63.28" stroke-width="2.00" textLength="14.86" lengthAdjust="spacingAndGlyphs">,</tspan><tspan x="1106.09" y="1110.60" font-size="63.28" stroke-width="2.00" textLength="29.75" lengthAdjust="spacingAndGlyphs">0</tspan><tspan x="1135.84" y="1110.60" font-size="63.28" stroke-width="2.00" textLength="29.75" lengthAdjust="spacingAndGlyphs">0</tspan><tspan x="1165.60" y="1110.60" font-size="63.28" stroke-width="2.00" textLength="29.75" lengthAdjust="spacingAndGlyphs">0</tspan></text>
<text stroke="#000" stroke-linejoin="round"><tspan x="1226.46" y="1110.60" font-size="63.28" stroke-width="2.00" textLength="29.98" lengthAdjust="spacingAndGlyphs">1</tspan><tspan x="1256.44" y="1110.60" font-size="63.28" stroke-width="2.00" textLength="14.98" lengthAdjust="spacingAndGlyphs">,</tspan><tspan x="1271.42" y="1110.60" font-size="63.28" stroke-width="2.00" textLength="29.98" lengthAdjust="spacingAndGlyphs">2</tspan><tspan x="1301.40" y="1110.60" font-size="63.28" stroke-width="2.00" textLength="29.98" lengthAdjust="spacingAndGlyphs">0</tspan><tspan x="1331.38" y="1110.60" font-size="63.28" stroke-width="2.00" textLength="29.98" lengthAdjust="spacingAndGlyphs">0</tspan></text>
<text stroke="#000" stroke-linejoin="round"><tspan x="1383.91" y="1110.60" font-size="63.28" stroke-width="2.00" textLength="30.55" lengthAdjust="spacingAndGlyphs">1</tspan><tspan x="1414.46" y="1110.60" font-size="63.28" stroke-width="2.00" textLength="15.26" lengthAdjust="spacingAndGlyphs">,</tspan><tspan x="1429.72" y="1110.60" font-size="63.28" stroke-width="2.00" textLength="30.55" lengthAdjust="spacingAndGlyphs">4</tspan><tspan x="1460.28" y="1110.60" font-size="63.28" stroke-width="2.00" textLength="30.55" lengthAdjust="spacingAndGlyphs">0</tspan><tspan x="1490.83" y="1110.60" font-size="63.28" stroke-width="2.00" textLength="30.55" lengthAdjust="spacingAndGlyphs">0</tspan></text>
<text stroke="#000" stroke-linejoin="round"><tspan x="631.05" y="1233.10" font-size="100.58" stroke-width="4.60" textLength="55.25" lengthAdjust="spacingAndGlyphs">T</tspan><tspan x="685.80" y="1233.10" font-size="95.50" stroke-width="4.60" textLength="24.88" lengthAdjust="spacingAndGlyphs">i</tspan><tspan x="711.90" y="1233.10" font-size="90.61" stroke-width="4.60" textLength="81.14" lengthAdjust="spacingAndGlyphs">m</tspan><tspan x="794.37" y="1233.10" font-size="90.61" stroke-width="4.60" textLength="45.96" lengthAdjust="spacingAndGlyphs">e</tspan> <tspan x="869.57" y="1235.06" font-size="99.45" stroke-width="4.60" textLength="25.34" lengthAdjust="spacingAndGlyphs">(</tspan><tspan x="901.37" y="1233.10" font-size="90.61" stroke-width="4.60" textLength="77.42" lengthAdjust="spacingAndGlyphs">m</tspan><tspan x="981.70" y="1233.10" font-size="95.50" stroke-width="4.60" textLength="23.68" lengthAdjust="spacingAndGlyphs">i</tspan><tspan x="1007.88" y="1233.10" font-size="90.61" stroke-width="4.60" textLength="51.51" lengthAdjust="spacingAndGlyphs">n</tspan><tspan x="1066.28" y="1235.06" font-size="99.45" stroke-width="4.60" textLength="25.24" lengthAdjust="spacingAndGlyphs">)</tspan></text>
<g transform="rotate(-90)">
<text stroke="#000" stroke-linejoin="round"><tspan x="-817.30" y="100.80" font-size="93.60" stroke-width="4.60" textLength="71.65" lengthAdjust="spacingAndGlyphs">H</tspan><tspan x="-742.32" y="125.80" font-size="63.98" stroke-width="3.00" textLength="35.90" lengthAdjust="spacingAndGlyphs">2</tspan> <tspan x="-677.03" y="100.80" font-size="87.26" stroke-width="4.60" textLength="48.80" lengthAdjust="spacingAndGlyphs">v</tspan><tspan x="-620.84" y="100.80" font-size="87.26" stroke-width="4.60" textLength="54.67" lengthAdjust="spacingAndGlyphs">o</tspan><tspan x="-560.23" y="100.80" font-size="88.88" stroke-width="4.60" textLength="29.26" lengthAdjust="spacingAndGlyphs">l</tspan><tspan x="-529.35" y="100.80" font-size="87.26" stroke-width="4.60" textLength="62.61" lengthAdjust="spacingAndGlyphs">u</tspan><tspan x="-466.04" y="100.80" font-size="87.26" stroke-width="4.60" textLength="90.78" lengthAdjust="spacingAndGlyphs">m</tspan><tspan x="-370.96" y="100.80" font-size="87.26" stroke-width="4.60" textLength="50.98" lengthAdjust="spacingAndGlyphs">e</tspan></text>
<text stroke="#000" stroke-linejoin="round"><tspan x="-896.50" y="212.19" font-size="88.72" stroke-width="4.60" textLength="26.52" lengthAdjust="spacingAndGlyphs">(</tspan><tspan x="-860.14" y="208.30" font-size="86.15" stroke-width="4.60" textLength="87.10" lengthAdjust="spacingAndGlyphs">m</tspan><tspan x="-767.84" y="208.30" font-size="88.08" stroke-width="4.60" textLength="57.47" lengthAdjust="spacingAndGlyphs">L</tspan><tspan x="-706.76" y="208.30" font-size="88.08" stroke-width="4.60" textLength="26.22" lengthAdjust="spacingAndGlyphs">/</tspan><tspan x="-675.92" y="212.19" font-size="88.72" stroke-width="4.60" textLength="26.81" lengthAdjust="spacingAndGlyphs">(</tspan><tspan x="-637.65" y="208.30" font-size="86.15" stroke-width="4.60" textLength="57.53" lengthAdjust="spacingAndGlyphs">g</tspan> <tspan x="-549.39" y="208.30" font-size="86.15" stroke-width="4.60" textLength="58.99" lengthAdjust="spacingAndGlyphs">o</tspan><tspan x="-484.01" y="208.30" font-size="83.63" stroke-width="4.60" textLength="31.70" lengthAdjust="spacingAndGlyphs">f</tspan> <tspan x="-420.74" y="208.30" font-size="88.08" stroke-width="4.60" textLength="58.78" lengthAdjust="spacingAndGlyphs">S</tspan><tspan x="-352.30" y="208.30" font-size="83.63" stroke-width="4.60" textLength="21.68" lengthAdjust="spacingAndGlyphs">i</tspan><tspan x="-323.65" y="212.19" font-size="88.72" stroke-width="4.60" textLength="27.41" lengthAdjust="spacingAndGlyphs">)</tspan><tspan x="-287.95" y="212.19" font-size="88.72" stroke-width="4.60" textLength="27.41" lengthAdjust="spacingAndGlyphs">)</tspan></text>
</g>
</g>
</svg>
</body></html>
